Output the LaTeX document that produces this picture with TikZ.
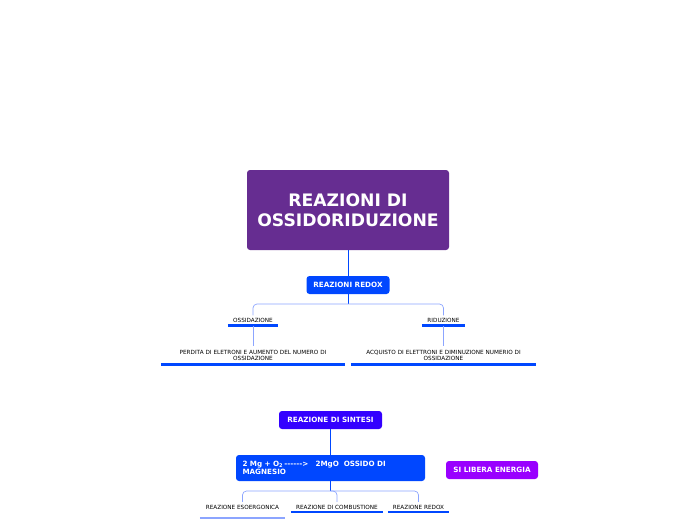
\documentclass[tikz,border=0pt]{standalone}
\usepackage{fontspec}
\setmainfont{DejaVu Sans}
\usetikzlibrary{positioning}
\definecolor{rootpurple}{RGB}{102,45,145}
\definecolor{redoxblue}{RGB}{0,71,255}
\definecolor{sintblue}{RGB}{51,0,255}
\definecolor{energia}{RGB}{153,0,255}
\definecolor{lightline}{RGB}{140,165,255}
\newcommand{\dsh}{\mbox{-}}

\begin{document}
\begin{tikzpicture}[x=1pt,y=-1pt,
		box/.style={rounded corners=3pt, text=white, font=\bfseries\fontsize{7.2}{8.4}\selectfont, inner sep=0pt, align=center},
		topic/.style={font=\fontsize{5.7}{6.4}\selectfont, inner xsep=0pt, inner ysep=2.8pt, align=center},
		uline/.style={redoxblue, line width=2.6pt},
		link/.style={redoxblue, line width=0.7pt},
		sublink/.style={lightline, line width=0.7pt, rounded corners=4pt}]
				\useasboundingbox (0,0) rectangle (696,520);
				% main topic
				\node[box, fill=rootpurple, minimum width=202pt, minimum height=80pt, font=\bfseries\fontsize{17.2}{20}\selectfont] (root) at (348,210) {REAZIONI DI\\OSSIDORIDUZIONE};
				\node[box, fill=redoxblue, minimum width=83pt, minimum height=18pt] (redox) at (348,285) {REAZIONI REDOX};
				\draw[link] (root) -- (redox);
				% ossidazione / riduzione
				\coordinate (bj) at (348,304);
				\node[topic, minimum width=50pt] (ossi) at (253,320.5) {OSSIDAZIONE};
				\node[topic, minimum width=43pt] (ridu) at (443.5,320.5) {RIDUZIONE};
				\draw[link] (redox) -- (bj);
				\draw[sublink] (ossi.north) |- (bj) -| (ridu.north);
				\draw[uline] (ossi.south west) -- (ossi.south east);
				\draw[uline] (ridu.south west) -- (ridu.south east);
				\node[topic, text width=184pt, inner ysep=3.5pt] (perd) at (253,355.5) {PERDITA DI ELETRONI E AUMENTO DEL NUMERO DI\\OSSIDAZIONE};
				\node[topic, text width=185pt, inner ysep=3.5pt] (acqu) at (443.5,355.5) {ACQUISTO DI ELETTRONI E DIMINUZIONE NUMERIO DI\\OSSIDAZIONE};
				\draw[sublink] (ossi.south) -- (perd.north);
				\draw[sublink] (ridu.south) -- (acqu.north);
				\draw[uline] (perd.south west) -- (perd.south east);
				\draw[uline] (acqu.south west) -- (acqu.south east);
				% sintesi
				\node[box, fill=sintblue, minimum width=103pt, minimum height=18pt] (sint) at (330.5,420) {REAZIONE DI SINTESI};
				\node[box, fill=redoxblue, minimum width=189pt, minimum height=26pt, text width=176pt, align=left] (mgo) at (330.5,468) {2 Mg + O\textsubscript{2}\,\dsh\dsh\dsh\dsh\dsh\dsh>\ \ \ 2MgO\ \ OSSIDO DI\\MAGNESIO};
				\node[box, fill=energia, minimum width=92pt, minimum height=18pt] (ener) at (492,470) {SI LIBERA ENERGIA};
				\draw[link] (sint) -- (mgo);
				\coordinate (bk) at (330.5,491);
				\node[topic, minimum width=85pt] (esoe) at (242.5,507) {REAZIONE ESOERGONICA};
				\node[topic, minimum width=92pt] (comb) at (337,507) {REAZIONE DI COMBUSTIONE};
				\node[topic, minimum width=61pt] (rrdx) at (418.5,507) {REAZIONE REDOX};
				\draw[link] (mgo) -- (bk);
				\draw[sublink] (esoe.north) |- (bk) -| (rrdx.north);
				\draw[sublink] (bk) -| (comb.north);
				\draw[lightline, line width=1.4pt] ([yshift=-6pt]esoe.south west) -- ([yshift=-6pt]esoe.south east);
				\draw[uline] (comb.south west) -- (comb.south east);
				\draw[uline] (rrdx.south west) -- (rrdx.south east);
			\end{tikzpicture}
\end{document}
